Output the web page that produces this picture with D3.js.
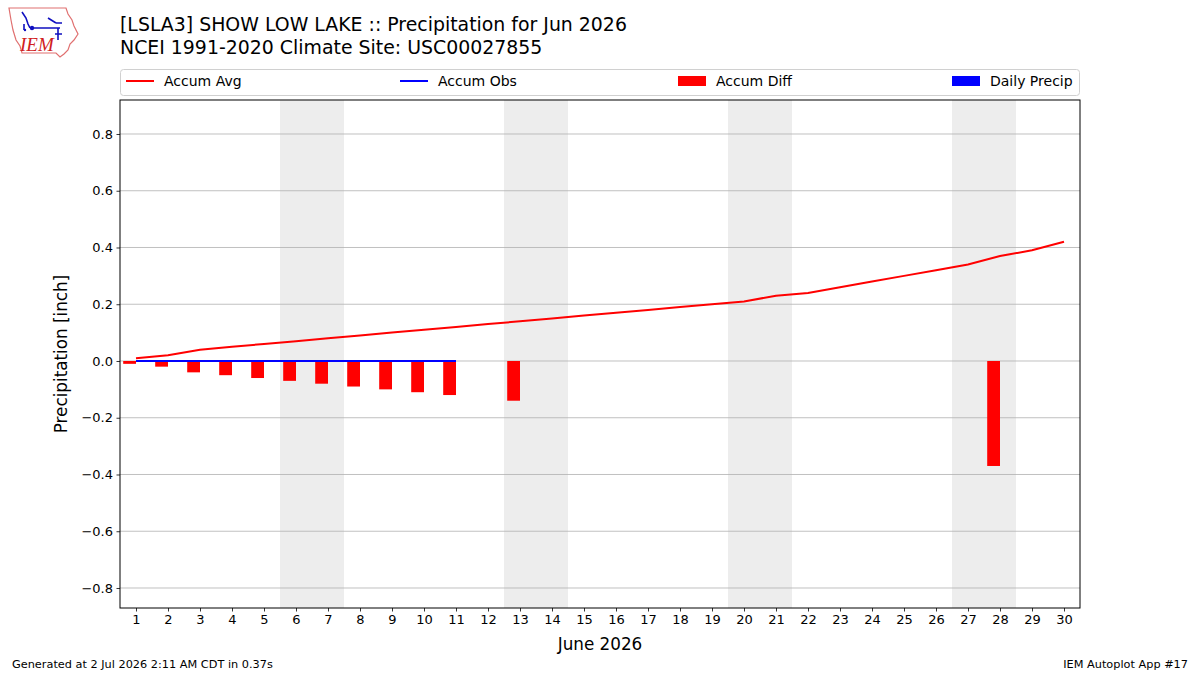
<!DOCTYPE html>
<html>
<head>
<meta charset="utf-8">
<script src="https://cdn.jsdelivr.net/npm/d3@7"></script>
<style>
  body { margin: 0; background: #fff; }
  svg { font-family: "DejaVu Sans", sans-serif; }
</style>
</head>
<body>
<div id="chart"></div>
<script>
const days = d3.range(1, 31);
const accumAvg = [0.01, 0.02, 0.04, 0.05, 0.06, 0.07, 0.08, 0.09, 0.10, 0.11,
  0.12, 0.13, 0.14, 0.15, 0.16, 0.17, 0.18, 0.19, 0.20, 0.21,
  0.23, 0.24, 0.26, 0.28, 0.30, 0.32, 0.34, 0.37, 0.39, 0.42];
const obsDays = d3.range(1, 12);
const accumObs = obsDays.map(() => 0);
const diffDays = [1, 2, 3, 4, 5, 6, 7, 8, 9, 10, 11, 13, 28];
const accumDiff = [-0.01, -0.02, -0.04, -0.05, -0.06, -0.07, -0.08, -0.09, -0.10, -0.11, -0.12, -0.14, -0.37];
const weekends = [6, 13, 20, 27];
const yTicks = [-0.8, -0.6, -0.4, -0.2, 0, 0.2, 0.4, 0.6, 0.8];
const legendItems = ["Accum Avg", "Accum Obs", "Accum Diff", "Daily Precip"];

(function precip_chart() {
  const width = 1200, height = 675,
    margin = {top: 100, right: 120, bottom: 67, left: 120};

  const svg = d3.select("#chart")
    .append("svg")
    .attr("width", width)
    .attr("height", height);

  let x = d3.scaleLinear([0.5, 30.5], [margin.left, width - margin.right]);
  let y = d3.scaleLinear([-0.8705, 0.9198], [height - margin.bottom, margin.top]);

  // weekend shading
  svg.append("g")
    .selectAll("rect")
    .data(weekends)
    .join("rect")
    .attr("x", d => x(d - 0.5))
    .attr("y", margin.top)
    .attr("width", d => x(d + 1.5) - x(d - 0.5))
    .attr("height", y.range()[0] - margin.top)
    .attr("fill", "#ededed");

  // gridlines
  svg.append("g")
    .selectAll("line")
    .data(yTicks)
    .join("line")
    .attr("x1", margin.left)
    .attr("x2", width - margin.right)
    .attr("y1", d => y(d))
    .attr("y2", d => y(d))
    .attr("stroke", "#b0b0b0")
    .attr("stroke-width", 0.8);

  // accum diff bars (left of day, width 0.4)
  svg.append("g")
    .selectAll("rect")
    .data(diffDays)
    .join("rect")
    .attr("x", d => x(d - 0.4))
    .attr("width", x(1.4) - x(1))
    .attr("y", (d, i) => y(Math.max(0, accumDiff[i])))
    .attr("height", (d, i) => Math.abs(y(accumDiff[i]) - y(0)))
    .attr("fill", "#ff0000");

  const line = d3.line().x(d => x(d[0])).y(d => y(d[1]));

  svg.append("path")
    .datum(days.map((d, i) => [d, accumAvg[i]]))
    .attr("d", line)
    .attr("fill", "none")
    .attr("stroke", "#ff0000")
    .attr("stroke-width", 2);

  svg.append("path")
    .datum(obsDays.map((d, i) => [d, accumObs[i]]))
    .attr("d", line)
    .attr("fill", "none")
    .attr("stroke", "#0000ff")
    .attr("stroke-width", 2);

  // axes
  const xAxis = svg.append("g")
    .attr("transform", `translate(0,${height - margin.bottom})`)
    .call(d3.axisBottom(x).tickValues(days).tickSize(3.5).tickPadding(3.5).tickFormat(d3.format("d")));
  const yAxis = svg.append("g")
    .attr("transform", `translate(${margin.left},0)`)
    .call(d3.axisLeft(y).tickValues(yTicks).tickSize(3.5).tickPadding(3.5)
      .tickFormat(d => d3.format(".1f")(d).replace("-", "\u2212")));
  [xAxis, yAxis].forEach(a => {
    a.select(".domain").remove();
    a.selectAll("text").attr("font-size", 13).attr("fill", "#000")
      .attr("font-family", "DejaVu Sans, sans-serif");
    a.selectAll("line").attr("stroke", "#000").attr("stroke-width", 0.8);
  });

  svg.append("rect")
    .attr("x", margin.left)
    .attr("y", margin.top)
    .attr("width", width - margin.left - margin.right)
    .attr("height", height - margin.bottom - margin.top)
    .attr("fill", "none")
    .attr("stroke", "#000")
    .attr("stroke-width", 1);

  svg.append("text")
    .attr("text-anchor", "middle")
    .attr("transform", `translate(67,${(margin.top + height - margin.bottom) / 2}) rotate(-90)`)
    .attr("font-size", 16.8)
    .text("Precipitation [inch]");

  svg.append("text")
    .attr("x", (margin.left + width - margin.right) / 2)
    .attr("y", 650)
    .attr("text-anchor", "middle")
    .attr("font-size", 16.8)
    .text("June 2026");

  // titles
  svg.append("text").attr("x", 120).attr("y", 31).attr("font-size", 18.9)
    .text("[LSLA3] SHOW LOW LAKE :: Precipitation for Jun 2026");
  svg.append("text").attr("x", 120).attr("y", 54).attr("font-size", 18.9)
    .text("NCEI 1991-2020 Climate Site: USC00027855");

  // legend
  const lg = svg.append("g");
  lg.append("rect")
    .attr("x", 120.5).attr("y", 69.5).attr("width", 959).attr("height", 26)
    .attr("rx", 3).attr("fill", "#fff").attr("stroke", "#d0d0d0");
  const lx = [126, 400, 678, 952];
  legendItems.forEach((t, i) => {
    if (i < 2) {
      lg.append("line").attr("x1", lx[i]).attr("x2", lx[i] + 28)
        .attr("y1", 81).attr("y2", 81)
        .attr("stroke", i === 0 ? "#ff0000" : "#0000ff").attr("stroke-width", 2);
    } else {
      lg.append("rect").attr("x", lx[i]).attr("y", 76).attr("width", 28).attr("height", 10)
        .attr("fill", i === 2 ? "#ff0000" : "#0000ff");
    }
    lg.append("text").attr("x", lx[i] + 38).attr("y", 86).attr("font-size", 14).text(t);
  });

  // footer
  svg.append("text").attr("x", 12).attr("y", 668).attr("font-size", 11.3)
    .text("Generated at 2 Jul 2026 2:11 AM CDT in 0.37s");
  svg.append("text").attr("x", 1188).attr("y", 668).attr("font-size", 11.3)
    .attr("text-anchor", "end").text("IEM Autoplot App #17");

  // logo
  const logo = svg.append("g");
  logo.append("path")
    .attr("d", "M9,8 L66,8 L68,14 L72,20 L74,26 L78,34 L74,40 L70,44 L68,50 L64,54 L60,57 L56,53 L22,53 L20,46 L16,40 L13,30 L11,20 Z")
    .attr("fill", "none").attr("stroke", "#e07070").attr("stroke-width", 1.2);
  logo.append("text").attr("x", 20).attr("y", 51).attr("font-size", 19)
    .attr("font-family", "Liberation Serif, serif").attr("font-style", "italic")
    .attr("fill", "#d02020").text("IEM");
  logo.append("path")
    .attr("d", "M22,12 L26,18 L28,24 L30,28 M30,28 L60,28 M48,18 L56,23 M56,23 L62,23 M58,28 L58,40 M55,34 L62,34 M24,24 L24,30")
    .attr("fill", "none").attr("stroke", "#1010c0").attr("stroke-width", 1.6);
  logo.append("circle").attr("cx", 32).attr("cy", 28).attr("r", 2.2).attr("fill", "#1010c0");
  logo.append("circle").attr("cx", 25).attr("cy", 30).attr("r", 1.2).attr("fill", "#1010c0");
})();
</script>
</body>
</html>
